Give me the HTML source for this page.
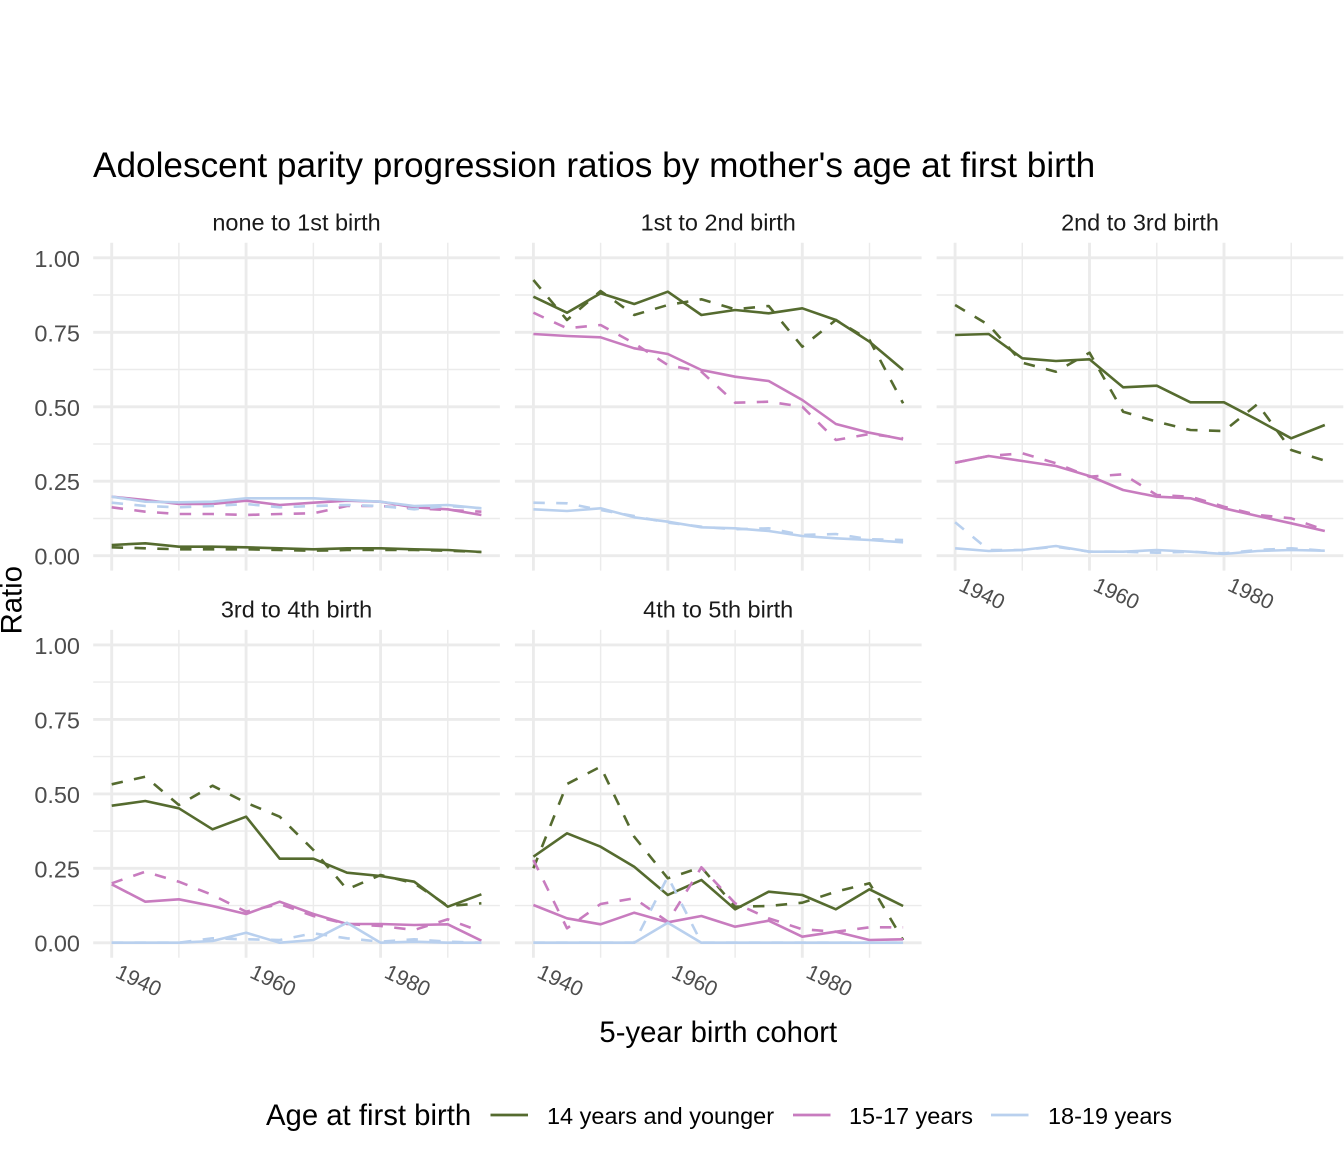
<!DOCTYPE html>
<html>
<head>
<meta charset="utf-8">
<style>
html,body{margin:0;padding:0;background:#fff;}
svg{display:block;font-family:"Liberation Sans",Arial,sans-serif;}
.minor{stroke:#EBEBEB;stroke-width:1.42;fill:none;}
.major{stroke:#EBEBEB;stroke-width:2.84;fill:none;}
.ln{fill:none;stroke-width:2.6;stroke-linejoin:round;stroke-linecap:butt;}
.d{stroke-dasharray:11.4 11.4;}
.g{stroke:#556B2F;}
.p{stroke:#C87CBF;}
.b{stroke:#B9D0EE;}
.ytk{font-size:23.47px;fill:#4D4D4D;text-anchor:end;}
.xtk{font-size:21.3px;fill:#4D4D4D;}
.strip{font-size:23.47px;fill:#1A1A1A;text-anchor:middle;}
</style>
</head>
<body>
<svg width="1344" height="1152" viewBox="0 0 1344 1152" xmlns="http://www.w3.org/2000/svg">
<rect x="0" y="0" width="1344" height="1152" fill="#fff"/>
<defs>
<g id="grid">
<path class="minor" d="M93.2 295H499.9M93.2 369.5H499.9M93.2 444H499.9M93.2 518.5H499.9M178.9 242.8V570.6M313.4 242.8V570.6M447.8 242.8V570.6"/>
<path class="major" d="M93.2 257.8H499.9M93.2 332.3H499.9M93.2 406.8H499.9M93.2 481.2H499.9M93.2 555.7H499.9M111.7 242.8V570.6M246.1 242.8V570.6M380.6 242.8V570.6"/>
</g>
</defs>
<use href="#grid" x="0" y="0"/>
<use href="#grid" x="421.7" y="0"/>
<use href="#grid" x="843.4" y="0"/>
<use href="#grid" x="0" y="387.1"/>
<use href="#grid" x="421.7" y="387.1"/>

<!-- Title -->
<text x="93" y="177" font-size="35.2" fill="#000">Adolescent parity progression ratios by mother's age at first birth</text>

<!-- Strips -->
<text class="strip" x="296.5" y="230.5">none to 1st birth</text>
<text class="strip" x="718.2" y="230.5">1st to 2nd birth</text>
<text class="strip" x="1140" y="230.5">2nd to 3rd birth</text>
<text class="strip" x="296.5" y="617.5">3rd to 4th birth</text>
<text class="strip" x="718.2" y="617.5">4th to 5th birth</text>

<!-- Y tick labels -->
<text class="ytk" x="80" y="266.8">1.00</text>
<text class="ytk" x="80" y="341.3">0.75</text>
<text class="ytk" x="80" y="415.8">0.50</text>
<text class="ytk" x="80" y="490.2">0.25</text>
<text class="ytk" x="80" y="564.7">0.00</text>
<text class="ytk" x="80" y="654">1.00</text>
<text class="ytk" x="80" y="728.4">0.75</text>
<text class="ytk" x="80" y="802.9">0.50</text>
<text class="ytk" x="80" y="877.3">0.25</text>
<text class="ytk" x="80" y="951.7">0.00</text>

<!-- X tick labels panel 3 -->
<text class="xtk" x="957.6" y="590" transform="rotate(25 957.6 590)">1940</text>
<text class="xtk" x="1092" y="590" transform="rotate(25 1092 590)">1960</text>
<text class="xtk" x="1226.5" y="590" transform="rotate(25 1226.5 590)">1980</text>
<!-- X tick labels panel 4 -->
<text class="xtk" x="114.2" y="977" transform="rotate(25 114.2 977)">1940</text>
<text class="xtk" x="248.6" y="977" transform="rotate(25 248.6 977)">1960</text>
<text class="xtk" x="383.1" y="977" transform="rotate(25 383.1 977)">1980</text>
<!-- X tick labels panel 5 -->
<text class="xtk" x="535.9" y="977" transform="rotate(25 535.9 977)">1940</text>
<text class="xtk" x="670.3" y="977" transform="rotate(25 670.3 977)">1960</text>
<text class="xtk" x="804.8" y="977" transform="rotate(25 804.8 977)">1980</text>

<!-- Axis titles -->
<text x="718.3" y="1042" font-size="29.3" text-anchor="middle" fill="#000">5-year birth cohort</text>
<text x="21.5" y="600.2" font-size="29.3" text-anchor="middle" fill="#000" transform="rotate(-90 21.5 600.2)">Ratio</text>

<!-- Panel 1 -->
<polyline class="ln g" points="111.7,545 145.3,543.3 178.9,546.7 212.5,546.7 246.1,547.3 279.7,548.3 313.4,549.3 347,548.3 380.6,548.3 414.2,549.3 447.8,550 481.4,552"/>
<polyline class="ln g d" points="111.7,547.3 145.3,548.3 178.9,549.3 212.5,549.3 246.1,549.3 279.7,550 313.4,550.7 347,550 380.6,550 414.2,550 447.8,550.7 481.4,552"/>
<polyline class="ln p" points="111.7,496.7 145.3,500 178.9,504 212.5,504 246.1,500.7 279.7,505 313.4,502.7 347,500.7 380.6,501.7 414.2,507.3 447.8,509.3 481.4,515"/>
<polyline class="ln p d" points="111.7,507.3 145.3,511.7 178.9,514 212.5,514 246.1,515 279.7,514 313.4,513.3 347,506 380.6,506 414.2,508.3 447.8,510 481.4,511.7"/>
<polyline class="ln b" points="111.7,496.7 145.3,501.7 178.9,502.3 212.5,501.7 246.1,498.3 279.7,498.3 313.4,498.3 347,500 380.6,501.7 414.2,506 447.8,505 481.4,508.3"/>
<polyline class="ln b d" points="111.7,502.7 145.3,506 178.9,507.3 212.5,506 246.1,504 279.7,507.3 313.4,506 347,505 380.6,506 414.2,509.3 447.8,506 481.4,508.3"/>

<!-- Panel 2 -->
<polyline class="ln g" points="533.4,296.7 567,312.7 600.6,293.3 634.2,304 667.8,291.7 701.4,315 735.1,310 768.7,313.3 802.3,308.3 835.9,320 869.5,341.7 903.1,370"/>
<polyline class="ln g d" points="533.4,280 567,320 600.6,291 634.2,315 667.8,305 701.4,299.3 735.1,309.3 768.7,306 802.3,346.7 835.9,320 869.5,340 903.1,403.3"/>
<polyline class="ln p" points="533.4,334 567,336 600.6,337.3 634.2,348.3 667.8,354 701.4,370 735.1,376.7 768.7,381 802.3,400 835.9,424 869.5,432.7 903.1,439.3"/>
<polyline class="ln p d" points="533.4,312.7 567,328.3 600.6,325 634.2,343.3 667.8,365 701.4,371.7 735.1,402.7 768.7,401.7 802.3,406.7 835.9,440 869.5,434 903.1,438.3"/>
<polyline class="ln b" points="533.4,509.3 567,511 600.6,508.3 634.2,517.3 667.8,521.7 701.4,527.3 735.1,528.3 768.7,531 802.3,536 835.9,538.3 869.5,540 903.1,542.3"/>
<polyline class="ln b d" points="533.4,502.7 567,503.3 600.6,510 634.2,516 667.8,522.7 701.4,526.7 735.1,529.3 768.7,528.3 802.3,535 835.9,534 869.5,539.3 903.1,540"/>

<!-- Panel 3 -->
<polyline class="ln g" points="955.1,335 988.7,334 1022.3,358.3 1055.9,361 1089.5,359.3 1123.1,387.3 1156.8,385.7 1190.4,402.3 1224,402.3 1257.6,420 1291.2,438.3 1324.8,425"/>
<polyline class="ln g d" points="955.1,305 988.7,325 1022.3,362.7 1055.9,371.7 1089.5,352.7 1123.1,411.7 1156.8,421.7 1190.4,430 1224,431 1257.6,404 1291.2,450 1324.8,460.7"/>
<polyline class="ln p" points="955.1,462.7 988.7,456 1022.3,461 1055.9,466 1089.5,476 1123.1,490 1156.8,496.7 1190.4,498.3 1224,508.3 1257.6,516 1291.2,523.3 1324.8,531"/>
<polyline class="ln p d" points="955.1,462.7 988.7,456 1022.3,453.3 1055.9,463.3 1089.5,476.7 1123.1,474.3 1156.8,495 1190.4,496.7 1224,506.7 1257.6,515 1291.2,518.3 1324.8,530"/>
<polyline class="ln b" points="955.1,548.3 988.7,551 1022.3,550 1055.9,546 1089.5,551.7 1123.1,551.7 1156.8,550 1190.4,551.7 1224,554 1257.6,551 1291.2,550 1324.8,550.7"/>
<polyline class="ln b d" points="955.1,522.3 988.7,550 1022.3,550 1055.9,546.7 1089.5,551.7 1123.1,551.7 1156.8,552.7 1190.4,551.7 1224,553.3 1257.6,550 1291.2,548.3 1324.8,550.7"/>

<!-- Panel 4 -->
<polyline class="ln g" points="111.7,805.7 145.3,801 178.9,808.3 212.5,829.3 246.1,816.7 279.7,858.7 313.4,858.7 347,872.7 380.6,876 414.2,881.7 447.8,906.7 481.4,894.3"/>
<polyline class="ln g d" points="111.7,784.3 145.3,776.7 178.9,805 212.5,785.7 246.1,802.7 279.7,816.7 313.4,850 347,889.3 380.6,875 414.2,883.3 447.8,906 481.4,903.3"/>
<polyline class="ln p" points="111.7,884.3 145.3,901.7 178.9,899.3 212.5,906 246.1,914 279.7,901.7 313.4,914 347,924 380.6,924 414.2,925 447.8,924.3 481.4,940.7"/>
<polyline class="ln p d" points="111.7,883.3 145.3,871.7 178.9,881.7 212.5,895 246.1,911.7 279.7,904 313.4,916 347,924 380.6,926 414.2,930 447.8,919.3 481.4,931.7"/>
<polyline class="ln b" points="111.7,942.7 145.3,942.7 178.9,942.7 212.5,941 246.1,932.7 279.7,942.7 313.4,940 347,922.7 380.6,942.7 414.2,941.7 447.8,942.7 481.4,942.7"/>
<polyline class="ln b d" points="111.7,942.7 145.3,942.7 178.9,942.7 212.5,938.3 246.1,939.3 279.7,940 313.4,933.3 347,938.3 380.6,941.7 414.2,939.3 447.8,941.7 481.4,942.7"/>

<!-- Panel 5 -->
<polyline class="ln g" points="533.4,856.7 567,833.3 600.6,846.7 634.2,866.7 667.8,895 701.4,880 735.1,909.3 768.7,891.7 802.3,895 835.9,909.3 869.5,889.3 903.1,906"/>
<polyline class="ln g d" points="533.4,868.3 567,784 600.6,766.7 634.2,836.7 667.8,878.3 701.4,867.3 735.1,906.7 768.7,906 802.3,902.7 835.9,891.7 869.5,883.3 903.1,940"/>
<polyline class="ln p" points="533.4,905 567,918.3 600.6,924.3 634.2,912.7 667.8,922.3 701.4,916 735.1,926.7 768.7,920.7 802.3,936.7 835.9,931.7 869.5,940 903.1,939.3"/>
<polyline class="ln p d" points="533.4,860 567,928.3 600.6,904 634.2,898.3 667.8,921.7 701.4,867.3 735.1,903.3 768.7,918.3 802.3,929.3 835.9,931.7 869.5,927.3 903.1,927.3"/>
<polyline class="ln b" points="533.4,942.7 567,942.7 600.6,942.7 634.2,942.7 667.8,922.7 701.4,942.7 735.1,942.7 768.7,942.7 802.3,942.7 835.9,942.7 869.5,942.7 903.1,942.7"/>
<polyline class="ln b d" points="533.4,942.7 567,942.7 600.6,942.7 634.2,942.7 667.8,876.7 701.4,942.7 735.1,942.7 768.7,942.7 802.3,942.7 835.9,942.7 869.5,942.7 903.1,942.7"/>

<!-- Legend -->
<text x="266" y="1125" font-size="29.3" fill="#000">Age at first birth</text>
<line x1="490.5" y1="1115" x2="528" y2="1115" stroke="#556B2F" stroke-width="2.84"/>
<text x="547" y="1124" font-size="23.47" fill="#000">14 years and younger</text>
<line x1="793" y1="1115" x2="830.5" y2="1115" stroke="#C87CBF" stroke-width="2.84"/>
<text x="849" y="1124" font-size="23.47" fill="#000">15-17 years</text>
<line x1="991" y1="1115" x2="1028.5" y2="1115" stroke="#B9D0EE" stroke-width="2.84"/>
<text x="1048" y="1124" font-size="23.47" fill="#000">18-19 years</text>
</svg>
</body>
</html>
